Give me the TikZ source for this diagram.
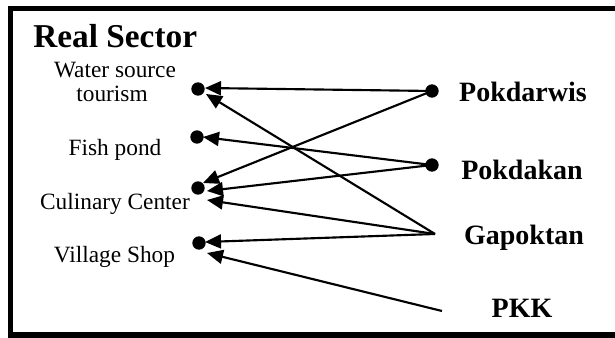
\documentclass[tikz,border=0pt]{standalone}
\usepackage{fontspec}
\setmainfont{Liberation Serif}
\usetikzlibrary{arrows.meta}
\tikzset{
  dotnode/.style={circle,fill=black,inner sep=0pt,minimum size=10pt},
  conn/.style={line width=1.6pt,-{Triangle[length=12pt,width=10.5pt]}},
  leftlbl/.style={anchor=base,inner sep=0pt,font=\fontsize{17.5}{20}\selectfont},
  rightlbl/.style={anchor=base,inner sep=0pt,font=\fontsize{21}{25}\selectfont\bfseries},
  titlelbl/.style={anchor=base west,inner sep=0pt,font=\fontsize{25}{29}\selectfont\bfseries},
  frame/.style={line width=3.8pt}
}
\begin{document}
\begin{tikzpicture}[x=0.75pt,y=-0.75pt]
\useasboundingbox (0,0) rectangle (615,338);
% frame (right side open)
\draw[frame] (615,8.5) -- (10.5,8.5) -- (10.5,335) -- (615,335);
% title
\node[titlelbl] (title) at (33,48) {Real Sector};
% left labels
\node[leftlbl] (lws1) at (115,78) {Water source};
\node[leftlbl] (lws2) at (112,102) {tourism};
\node[leftlbl] (lfp) at (115,156) {Fish pond};
\node[leftlbl] (lcc) at (115,210) {Culinary Center};
\node[leftlbl] (lvs) at (114.5,263) {Village Shop};
% right labels
\node[rightlbl] (rpd) at (523,102) {Pokdarwis};
\node[rightlbl] (rpk) at (522,180) {Pokdakan};
\node[rightlbl] (rga) at (524,245) {Gapoktan};
\node[rightlbl] (rpkk) at (522,318) {PKK};
% left dots
\node[dotnode] (ws) at (198,89) {};
\node[dotnode] (fp) at (197,137) {};
\node[dotnode] (cc) at (198,188) {};
\node[dotnode] (vs) at (199,243) {};
% right dots / start points
\node[dotnode] (pd) at (432,91) {};
\node[dotnode] (pk) at (432,165) {};
\coordinate (ga) at (435,234);
\coordinate (pkk) at (442,311);
% arrow tips beside the left dots
\coordinate (wsA) at (205,88);
\coordinate (wsB) at (206,94);
\coordinate (fpA) at (203,137);
\coordinate (ccA) at (203,183);
\coordinate (ccB) at (207,191);
\coordinate (ccC) at (207,200);
\coordinate (vsA) at (205,242);
\coordinate (vsB) at (207,253);
% connectors
\draw[conn] (pd.center) -- (wsA);
\draw[conn] (pd.center) -- (ccA);
\draw[conn] (pk.center) -- (fpA);
\draw[conn] (pk.center) -- (ccB);
\draw[conn] (ga) -- (wsB);
\draw[conn] (ga) -- (ccC);
\draw[conn] (ga) -- (vsA);
\draw[conn] (pkk) -- (vsB);
\end{tikzpicture}
\end{document}
